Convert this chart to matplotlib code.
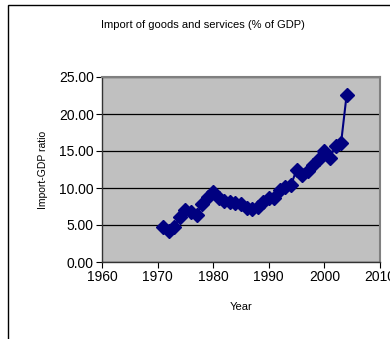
import matplotlib
matplotlib.use("Agg")
import matplotlib.pyplot as plt
from matplotlib.patches import Rectangle

plt.rcParams['font.family'] = ['Liberation Sans', 'DejaVu Sans']

years = list(range(1971, 2005))
ratio = [4.7, 4.2, 4.7, 6.1, 7.0, 6.7, 6.4, 7.9, 8.8, 9.5,
         8.7, 8.3, 8.1, 8.0, 7.8, 7.3, 7.1, 7.5, 8.1, 8.6,
         8.6, 9.7, 10.1, 10.4, 12.5, 11.8, 12.3, 13.1, 13.9, 15.0,
         14.1, 15.7, 16.1, 22.6]
xticks = [1960, 1970, 1980, 1990, 2000, 2010]
yticks = [0, 5, 10, 15, 20, 25]

fig = plt.figure(figsize=(3.9, 3.39), dpi=100)
# outer chart frame (runs off right and bottom edges)
fig.patches.append(Rectangle((7.5/390, -0.5), 2.0, 1.5 - 5/339, transform=fig.transFigure,
                             fill=False, edgecolor='black', linewidth=1.0))

ax = fig.add_axes([102/390, 1-262/339, 278/390, 185/339])
ax.set_facecolor('#C0C0C0')
ax.plot(years, ratio, color='#000080', lw=1.5, marker='D', ms=7,
        mfc='#000080', mec='#000080', zorder=3)

ax.set_xlim(1960, 2010)
ax.set_ylim(0, 25)
ax.set_xticks(xticks)
ax.set_yticks(yticks)
ax.set_yticklabels([f"{v:.2f}" for v in yticks])
ax.yaxis.grid(True, color='black', lw=0.9)
ax.set_axisbelow(True)
ax.tick_params(axis='both', labelsize=10, length=4, width=0.8, direction='out', pad=2)
for s in ['top', 'right']:
    ax.spines[s].set_color('#808080')
    ax.spines[s].set_linewidth(1.5)
for s in ['left', 'bottom']:
    ax.spines[s].set_color('#333333')
    ax.spines[s].set_linewidth(1.0)

ax.set_xlabel('Year', fontsize=8, labelpad=13)
ax.set_ylabel('Import-GDP ratio', fontsize=7.5, labelpad=8)
fig.text(203/390, 1-25/339, 'Import of goods and services (% of GDP)',
         fontsize=8, ha='center', va='center')

fig.savefig('out.png', dpi=100)
